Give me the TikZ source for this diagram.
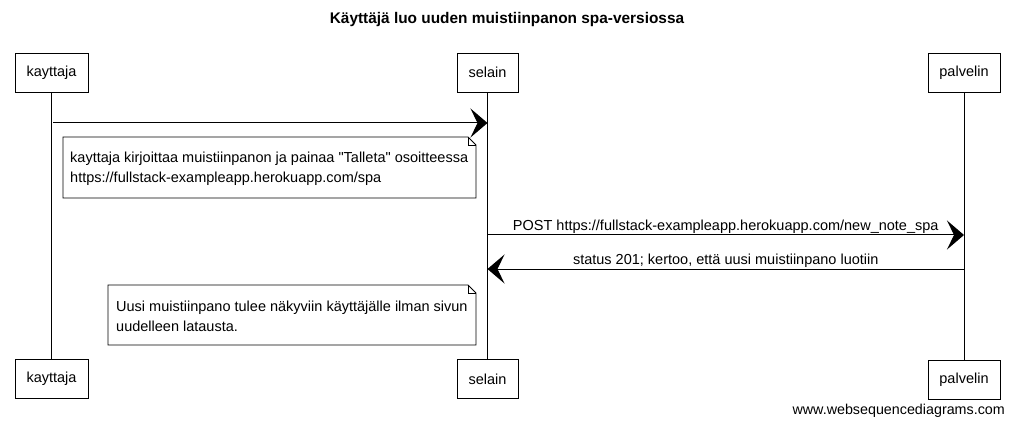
\documentclass[tikz,border=0pt]{standalone}
\usepackage{fontspec}
\setmainfont{Liberation Sans}
\usetikzlibrary{arrows.meta,calc}
\begin{document}
\begin{tikzpicture}[x=1pt,y=-1pt,
  txt/.style={font=\fontsize{14.5}{20}\selectfont},
  actor/.style={draw, line width=0.9pt, txt, minimum height=39pt, inner xsep=0pt},
  life/.style={line width=0.8pt},
  msg/.style={line width=1pt, -{Stealth[length=17pt,width=29pt,inset=7pt]}},
  notetext/.style={txt, anchor=west, align=left, inner sep=0pt},
  noteline/.style={line width=0.8pt},
  lbl/.style={txt, inner sep=1pt, above}
]
\useasboundingbox (0,0) rectangle (1013,425);
\node[font=\fontsize{15.4}{17}\selectfont\bfseries] (title) at (507,20) {Käyttäjä luo uuden muistiinpanon spa-versiossa};

\node[actor, minimum width=73pt] (k1) at (51.5,72.5) {kayttaja};
\node[actor, minimum width=61pt] (s1) at (487.5,72.5) {selain};
\node[actor, minimum width=72pt] (p1) at (964,73) {palvelin};
\node[actor, minimum width=73pt] (k2) at (51.5,379) {kayttaja};
\node[actor, minimum width=61pt] (s2) at (487.5,379) {selain};
\node[actor, minimum width=72pt] (p2) at (964,379.5) {palvelin};

\draw[life] (k1) -- (k2);
\draw[life] (s1) -- (s2);
\draw[life] (p1) -- (p2);

\coordinate (m1a) at (53,123);
\coordinate (m1b) at (487.5,123);
\coordinate (m2a) at (487.5,235);
\coordinate (m2b) at (964,235);
\coordinate (m3a) at (964,269);
\coordinate (m3b) at (487.5,269);

\draw[msg] (m1a) -- (m1b);
\draw[msg] (m2a) -- node[lbl] (l2) {POST https://fullstack-exampleapp.herokuapp.com/new\_note\_spa} (m2b);
\draw[msg] (m3a) -- node[lbl] (l3) {status 201; kertoo, että uusi muistiinpano luotiin} (m3b);

% note 1
\coordinate (n1nw) at (63,137);
\coordinate (n1se) at (476,198);
\draw[noteline,fill=white] (n1nw) -- ($(n1nw -| n1se)+(-8,0)$) -- ($(n1nw -| n1se)+(0,8)$) -- (n1se) -- (n1nw |- n1se) -- cycle;
\draw[noteline] ($(n1nw -| n1se)+(-8,0)$) -- ($(n1nw -| n1se)+(-8,8)$) -- ($(n1nw -| n1se)+(0,8)$);
\node[notetext] (n1t) at (70,169)
  {kayttaja kirjoittaa muistiinpanon ja painaa \textquotedbl Talleta\textquotedbl\ osoitteessa\\https://fullstack-exampleapp.herokuapp.com/spa};

% note 2
\coordinate (n2nw) at (108,285);
\coordinate (n2se) at (476,345);
\draw[noteline,fill=white] (n2nw) -- ($(n2nw -| n2se)+(-8,0)$) -- ($(n2nw -| n2se)+(0,8)$) -- (n2se) -- (n2nw |- n2se) -- cycle;
\draw[noteline] ($(n2nw -| n2se)+(-8,0)$) -- ($(n2nw -| n2se)+(-8,8)$) -- ($(n2nw -| n2se)+(0,8)$);
\node[notetext] (n2t) at (116,316)
  {Uusi muistiinpano tulee näkyviin käyttäjälle ilman sivun\\uudelleen latausta.};

\node[font=\fontsize{14.3}{16}\selectfont, anchor=east, inner sep=0pt] (foot) at (1005,411) {www.websequencediagrams.com};
\end{tikzpicture}
\end{document}
